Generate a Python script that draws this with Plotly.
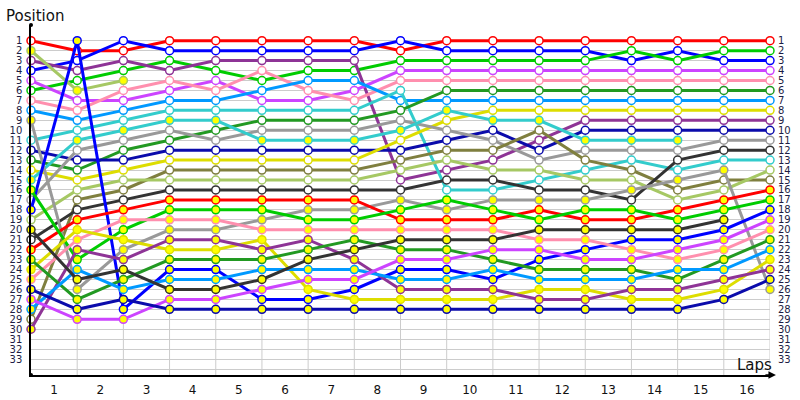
import plotly.graph_objects as go

laps = list(range(17))
positions = list(range(1, 34))
lap_labels = [str(i) for i in range(1, 17)]

# Class A drivers (white markers)
red_a = [1, 2, 2, 1, 1, 1, 1, 1, 2, 1, 1, 1, 1, 1, 1, 1, 1]
blue_a = [4, 3, 1, 2, 2, 2, 2, 2, 1, 2, 2, 2, 2, 3, 2, 3, 3]
green_a = [6, 5, 4, 3, 4, 5, 4, 4, 3, 3, 3, 3, 3, 2, 3, 2, 2]
purple_a = [3, 4, 3, 4, 3, 3, 3, 3, 15, 14, 13, 11, 9, 9, 9, 9, 9]
violet_a = [5, 7, 7, 6, 5, 7, 7, 6, 4, 4, 4, 4, 4, 4, 4, 4, 4]
pink_a = [7, 8, 6, 5, 6, 4, 6, 7, 5, 5, 5, 5, 5, 5, 5, 5, 5]
lightblue_a = [8, 9, 8, 7, 7, 6, 5, 5, 7, 7, 7, 7, 7, 7, 7, 7, 7]
cyan_a = [11, 10, 9, 8, 8, 8, 8, 8, 6, 16, 16, 15, 14, 13, 14, 13, 13]
darkgreen_a = [13, 14, 12, 11, 10, 9, 9, 9, 8, 6, 6, 6, 6, 6, 6, 6, 6]
darkblue_a = [12, 13, 13, 12, 12, 12, 12, 12, 12, 11, 10, 12, 10, 10, 10, 10, 10]
yellow_a = [14, 15, 14, 13, 13, 13, 13, 13, 11, 9, 8, 8, 8, 8, 8, 8, 8]
gray_a = [17, 12, 11, 10, 11, 10, 10, 10, 9, 10, 11, 13, 12, 12, 12, 11, 11]
olive_a = [29, 17, 16, 14, 14, 14, 14, 14, 13, 12, 12, 10, 13, 14, 16, 15, 15]
lightolive_a = [19, 16, 15, 15, 15, 15, 15, 15, 14, 13, 14, 14, 15, 15, 17, 16, 14]
darkgray_a = [21, 18, 17, 16, 16, 16, 16, 16, 16, 15, 15, 16, 16, 17, 13, 12, 12]

# Class B drivers (yellow markers)
N = None
lightolive_b = [2, 6, 5, N, N, N, N, N, N, N, N, N, N, N, N, N, N]
cyan_b = [15, 11, 10, 9, 9, 11, 11, 11, 10, 8, 9, 9, 11, 11, 11, N, N]
gray_b = [9, 26, 22, 20, 20, 19, 18, 18, 17, 18, 17, 17, 17, 16, 15, 14, 26]
blue_b = [18, 1, 28, 24, 24, 27, 27, 26, 24, 24, 25, 23, 22, 21, 21, 20, 18]
red_b = [22, 19, 18, 17, 17, 17, 17, 17, 19, 19, 19, 18, 19, 19, 18, 17, 16]
green_b = [16, 23, 20, 18, 18, 18, 19, 19, 18, 17, 18, 19, 18, 18, 19, 18, 17]
pink_b = [25, 21, 19, 19, 19, 20, 20, 20, 20, 20, 20, 21, 21, 22, 23, 22, 20]
yellow_b = [24, 20, 21, 22, 22, 21, 26, 27, 27, 27, 27, 26, 26, 27, 27, 26, 23]
purple_b = [30, 22, 23, 21, 21, 22, 21, 23, 26, 26, 26, 27, 27, 26, 26, 25, 24]
darkgreen_b = [23, 27, 25, 23, 23, 23, 22, 21, 22, 22, 23, 24, 24, 24, 25, 23, 21]
lightblue_b = [28, 24, 26, 25, 25, 24, 24, 24, 25, 25, 24, 25, 25, 25, 24, 24, 22]
darkgray_b = [20, 25, 24, 26, 26, 25, 23, 22, 21, 21, 21, 20, 20, 20, 20, 19, N]
violet_b = [27, 29, 29, 27, 27, 26, 25, 25, 23, 23, 22, 22, 23, 23, 22, 21, 19]
darkblue_b = [26, 28, 27, 28, 28, 28, 28, 28, 28, 28, 28, 28, 28, 28, 28, 27, 25]

COL = {
    "red": "#ff0000", "blue": "#0000ff", "green": "#00cc00", "purple": "#8e3496",
    "violet": "#cc44ff", "pink": "#ff8fae", "lightblue": "#0099ff", "cyan": "#33cccc",
    "darkgreen": "#229922", "darkblue": "#0b0bab", "yellow": "#dddd00", "gray": "#999999",
    "olive": "#7f7f3f", "lightolive": "#a6c864", "darkgray": "#333333",
}

drivers = [
    ("red", "white", red_a), ("blue", "white", blue_a), ("green", "white", green_a),
    ("purple", "white", purple_a), ("violet", "white", violet_a), ("pink", "white", pink_a),
    ("lightblue", "white", lightblue_a), ("cyan", "white", cyan_a),
    ("darkgreen", "white", darkgreen_a), ("darkblue", "white", darkblue_a),
    ("yellow", "white", yellow_a), ("gray", "white", gray_a), ("olive", "white", olive_a),
    ("lightolive", "white", lightolive_a), ("darkgray", "white", darkgray_a),
    ("lightolive", "#ffff00", lightolive_b), ("cyan", "#ffff00", cyan_b),
    ("gray", "#ffff00", gray_b), ("blue", "#ffff00", blue_b), ("red", "#ffff00", red_b),
    ("green", "#ffff00", green_b), ("pink", "#ffff00", pink_b), ("yellow", "#ffff00", yellow_b),
    ("purple", "#ffff00", purple_b), ("darkgreen", "#ffff00", darkgreen_b),
    ("lightblue", "#ffff00", lightblue_b), ("darkgray", "#ffff00", darkgray_b),
    ("violet", "#ffff00", violet_b), ("darkblue", "#ffff00", darkblue_b),
]

fig = go.Figure()
for cname, fill, pos in drivers:
    c = COL[cname]
    fig.add_trace(go.Scatter(
        x=laps, y=pos, mode="lines+markers",
        line=dict(color=c, width=3),
        marker=dict(symbol="circle", size=8, color=fill, line=dict(color=c, width=1.5)),
        cliponaxis=False, showlegend=False, hoverinfo="skip",
    ))

# invisible trace to anchor right axis
fig.add_trace(go.Scatter(x=[0], y=[1], yaxis="y2", mode="markers",
                         marker=dict(opacity=0), showlegend=False, hoverinfo="skip"))

YR = [34.6, -0.58]
label_font = dict(family="DejaVu Sans", size=10, color="#1c1c44")

shapes = []
for lp in range(1, 17):
    shapes.append(dict(type="line", xref="x", yref="y", x0=lp, x1=lp, y0=1, y1=YR[0],
                       line=dict(color="#cccccc", width=1), layer="below"))
for yy in [0, 1]:
    shapes.append(dict(type="circle", xref="paper", yref="paper", xsizemode="pixel",
                       ysizemode="pixel", xanchor=0, yanchor=yy, x0=-2, x1=2, y0=-2, y1=2,
                       fillcolor="black", line=dict(color="black", width=0)))

fig.update_layout(
    width=800, height=400,
    margin=dict(l=31, r=30, t=25, b=25, autoexpand=False),
    paper_bgcolor="white", plot_bgcolor="white",
    xaxis=dict(range=[0, 16], tickvals=[i + 0.5 for i in range(16)], ticktext=lap_labels,
               showgrid=False, zeroline=False, showline=True, linecolor="black", linewidth=1.5,
               ticks="", ticklabelstandoff=3, automargin=False,
               tickfont=dict(family="DejaVu Sans", size=12, color="#111111")),
    yaxis=dict(range=YR, tickvals=list(range(1, 35)), ticktext=[str(p) for p in positions] + [""],
               showgrid=True, gridcolor="#cccccc", gridwidth=1, zeroline=False,
               showline=True, linecolor="black", linewidth=1.5, ticks="", automargin=False,
               ticklabelstandoff=5, tickfont=label_font),
    yaxis2=dict(range=YR, overlaying="y", side="right", tickvals=positions,
                ticktext=[str(p) for p in positions], showgrid=False, zeroline=False,
                showline=False, ticks="", ticklabelstandoff=7, automargin=False,
                tickfont=label_font),
    shapes=shapes,
    annotations=[
        dict(text="Position", xref="paper", yref="paper", x=-0.037, y=1.026,
             xanchor="left", yanchor="middle", showarrow=False,
             font=dict(family="DejaVu Sans", size=15, color="#111111")),
        dict(text="Laps", xref="paper", yref="paper", x=1.006, y=0.03,
             xanchor="right", yanchor="middle", showarrow=False,
             font=dict(family="DejaVu Sans", size=15, color="#111111")),
        dict(text="", xref="paper", yref="paper", x=1.008, y=0, ax=-12, ay=0,
             showarrow=True, arrowhead=2, arrowsize=1, arrowwidth=1.5, arrowcolor="black"),
    ],
)

fig.write_html("out.html", config={"displayModeBar": False},
               post_script="document.body.style.margin='0';document.body.style.overflow='hidden';")
